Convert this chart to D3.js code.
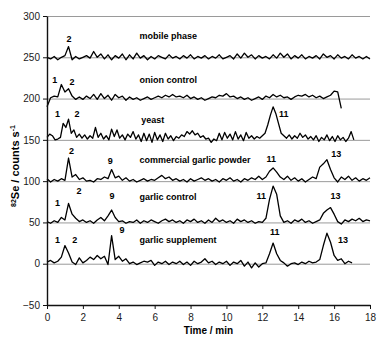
<!DOCTYPE html>
<html>
<head>
<meta charset="utf-8">
<script src="https://cdn.jsdelivr.net/npm/d3@7"></script>
<style>
	body { margin: 0; background: #fff; }
	svg { font-family: "Liberation Sans", Arial, sans-serif; }
	.axis path, .axis line { stroke: #111; }
	.axis text { font-size: 10px; fill: #1a1a1a; }
	.grid line { stroke: #9a9a9a; stroke-width: 1; }
	.trace { fill: none; stroke: #000; stroke-width: 1.3; stroke-linejoin: round; }
	.name { font-size: 9px; font-weight: bold; }
	.peak { font-size: 9px; font-weight: bold; text-anchor: middle; }
	.title { font-size: 10px; font-weight: bold; }
</style>
</head>
<body>
<div id="chart"></div>
<script>

// chromatograms, counts relative to each trace's baseline
var seriesNames = ["mobile phase", "onion control", "yeast", "commercial garlic powder", "garlic control", "garlic supplement"];
var seriesOffsets = [250, 200, 150, 100, 50, 0];
var seriesSteps = [0.2, 0.2, 0.15, 0.2, 0.2, 0.2];

var mobilePhase = [0, -2, 1, -3, 0, 2, 13, -3, 1, -2, 0, 2, -1, 7, 0, 4, -2, 3, -3, 2,
	-1, 4, -3, 3, -2, 5, -1, 2, -3, 1, -2, 2, 0, -2, 3, -1, 1, -2, 2, -1,
	3, -2, 1, -1, 2, -2, 1, -1, 3, -2, 0, 2, -2, 4, -1, 5, 0, 3, -2, 2,
	-1, 1, -2, 3, -1, 5, 0, 4, -2, 2, -1, 3, -2, 1, -1, 2, -2, 4, 0, 2,
	-2, 3, -1, 1, -2, 3, -1, 1, -2, 1, -2];

var onionControl = [-10, 1, 3, 2, 17, 8, 12, 3, -1, 2, -1, 3, 0, 5, -1, 6, 0, 4, -2, 5,
	1, 3, -2, 2, -1, 1, -2, 0, 2, -1, 1, 3, 1, 4, 2, 5, 2, 3, 1, 4,
	0, 2, -1, 1, -2, 0, 2, 1, 4, 3, 6, 2, 3, 0, 2, -1, 1, -2, 0, 2,
	-1, 3, 1, 5, 2, 4, 1, 2, -1, 2, 4, 3, 5, 2, 4, 1, 3, 0, 2, 4,
	9, 8, -12];

var yeast = [3, 7, 5, 0, 1, 3, 20, 15, 25, 8, 12, 3, 7, 2, 6, 1, 5, 2, 15, 3,
	8, 1, 5, 0, 13, 4, 12, 2, 6, 0, 7, 3, 10, 1, 6, -2, 8, -1, 7, -3,
	9, 0, 6, -2, 8, 1, 5, -1, 4, 2, 6, 4, 10, 7, 11, 6, 8, 3, 5, 1,
	2, -3, 1, -1, 8, 0, 9, 2, 7, 0, 10, 1, 6, -1, 9, 2, 5, 1, 4, 2,
	5, 8, 18, 30, 40, 32, 20, 8, 5, 2, 6, 1, 5, 2, 8, 3, 6, 1, 4, 0,
	5, -2, 3, 0, 6, -1, 4, -2, 5, 0, 3, -2, 2, 10, 0];

var garlicPowder = [3, -1, 2, 0, 3, 1, 28, 5, 8, 2, 4, 0, 1, -1, 3, 2, 5, 3, 14, 4,
	6, 1, 4, 0, 2, -1, 1, 3, 0, 2, 1, 4, 7, 3, 5, 1, 3, 0, 2, -1,
	3, 0, 2, 4, 1, 3, 0, 2, -1, 3, 1, 4, 0, 2, -1, 3, 1, 4, 2, 6,
	2, 5, 12, 16, 11, 5, 2, 6, 1, 4, 0, 3, -1, 2, 5, 3, 17, 21, 26, 14,
	4, -1, 5, 2, 6, 1, 4, 0, 3, 1, 4];

var garlicControl = [1, -1, 2, 0, 6, 3, 23, 10, 5, 1, 3, 0, 2, -1, 3, 6, 2, 8, 15, 6,
	1, 2, -1, 1, 0, 3, -1, 2, 0, 3, 1, -1, 2, 4, 1, 3, 0, 2, -1, 3,
	1, 4, 0, 2, -1, 3, 0, 5, 1, 3, 0, 2, -1, 4, 1, 3, 0, 2, -1, 1,
	0, 5, 28, 44, 34, 8, 0, 2, -1, 3, 1, 4, 0, 2, -1, 1, 3, 11, 15, 18,
	10, 1, -2, 3, 1, 4, 2, 5, 1, 3, 2];

var garlicSupplement = [2, 4, 1, 3, 8, 22, 13, 2, -1, 7, 1, 4, 8, 5, 10, 6, 9, -1, 34, 5,
	9, 3, 6, 0, 2, -1, 1, 3, 2, 4, -2, 2, 0, 3, -1, 2, 0, 3, -1, 2,
	-2, 3, 0, 2, 6, 1, 3, -1, 2, 0, 3, -2, 2, 0, 4, -3, 2, -5, 1, -4,
	0, 1, 12, 25, 12, 4, 1, -3, 0, 1, -1, 2, 0, 3, 1, 2, 5, 22, 37, 26,
	10, 4, 6, 0, 3, 1];

var seriesValues = [mobilePhase, onionControl, yeast, garlicPowder, garlicControl, garlicSupplement];

// name label anchor (time, counts) per trace
var nameTimes = [5.16, 5.16, 5.25, 5.16, 5.16, 5.16];
var nameCounts = [272, 219, 170, 122, 77, 25];

// peak numbers: [text, time, counts]
var peakLabels = [
	["2", 1.23, 268],
	["1", 0.43, 218.5], ["2", 1.39, 216],
	["1", 0.58, 178], ["2", 1.67, 178], ["11", 13.2, 178],
	["2", 1.36, 133], ["9", 3.53, 121], ["11", 12.5, 123], ["13", 16.12, 129],
	["1", 0.58, 70], ["2", 1.78, 85], ["9", 3.62, 78], ["11", 11.94, 78], ["13", 16.08, 78],
	["1", 0.58, 25.5], ["2", 1.54, 25.5], ["9", 4.18, 37], ["11", 12.69, 34.5], ["13", 16.49, 25]
];

var xTicks = [0, 2, 4, 6, 8, 10, 12, 14, 16, 18];
var yTicks = [-50, 0, 50, 100, 150, 200, 250, 300];
var gridTicks = [0, 50, 100, 150, 200, 250, 300];


var margin = {top: 16, right: 16, bottom: 37, left: 47},
	width = 386 - margin.left - margin.right,
	height = 342 - margin.top - margin.bottom;

var x = d3.scaleLinear().domain([0, 18]).range([0, width]);
var y = d3.scaleLinear().domain([-50, 300]).range([height, 0]);

var svg = d3.select("#chart")
	.append("svg")
		.attr("width", 386)
		.attr("height", 342);

var g = svg.append("g")
	.attr("transform", "translate(" + margin.left + "," + margin.top + ")");

g.append("g")
	.attr("class", "grid")
	.selectAll("line")
	.data(gridTicks)
	.enter().append("line")
		.attr("x1", 0)
		.attr("x2", width)
		.attr("y1", function(d) { return y(d) + 0.5; })
		.attr("y2", function(d) { return y(d) + 0.5; });

var line = d3.line()
	.x(function(d) { return x(d[0]); })
	.y(function(d) { return y(d[1]); });

seriesValues.forEach(function(values, i) {

	var points = values.map(function(v, k) {
		return [k * seriesSteps[i], v + seriesOffsets[i]];
	});

	g.append("path")
		.attr("class", "trace")
		.attr("d", line(points));

	g.append("text")
		.attr("class", "name")
		.attr("x", x(nameTimes[i]))
		.attr("y", y(nameCounts[i]))
		.text(seriesNames[i]);
});

g.selectAll(".peak")
	.data(peakLabels)
	.enter().append("text")
		.attr("class", "peak")
		.attr("x", function(d) { return x(d[1]); })
		.attr("y", function(d) { return y(d[2]); })
		.text(function(d) { return d[0]; });

g.append("g")
	.attr("class", "axis")
	.attr("transform", "translate(0," + height + ")")
	.call(d3.axisBottom(x).tickValues(xTicks).tickSize(4).tickSizeOuter(0).tickPadding(5));

g.append("g")
	.attr("class", "axis")
	.call(d3.axisLeft(y).tickValues(yTicks).tickSize(4).tickSizeOuter(0).tickPadding(3));

g.selectAll(".axis path").attr("stroke-width", 1.4);

g.append("text")
	.attr("class", "title")
	.attr("x", x(9))
	.attr("y", height + 29)
	.attr("text-anchor", "middle")
	.text("Time / min");

var ytitle = svg.append("text")
	.attr("class", "title")
	.attr("transform", "translate(19,166) rotate(-90)")
	.attr("text-anchor", "middle")
	.style("font-size", "11px");

ytitle.append("tspan").attr("font-size", "7px").attr("dy", "-3").text("82");
ytitle.append("tspan").attr("dy", "3").text("Se / counts s");
ytitle.append("tspan").attr("font-size", "7px").attr("dy", "-4").text("-1");

</script>
</body>
</html>
